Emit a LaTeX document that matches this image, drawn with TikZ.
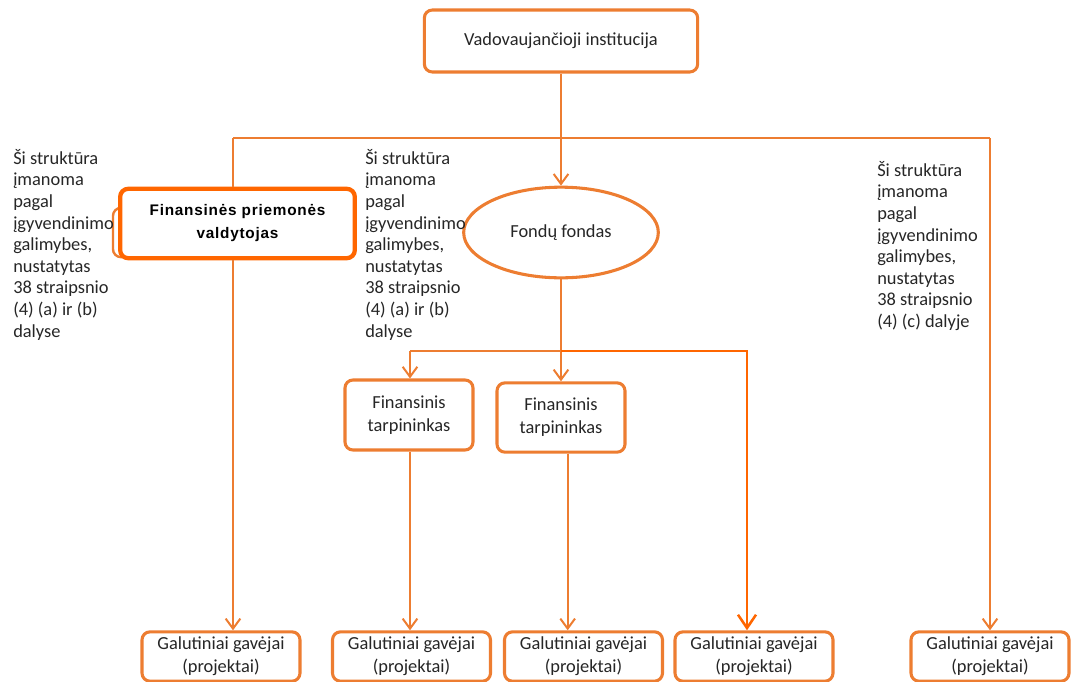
\documentclass[tikz,border=0pt]{standalone}
\usepackage{fontspec}
\setmainfont{Carlito}
\newfontfamily\fpvfont[LetterSpace=5]{Liberation Sans}
\usetikzlibrary{arrows.meta,shapes.geometric}
\definecolor{lineorange}{RGB}{237,125,49}
\definecolor{deeporange}{RGB}{255,102,0}
\begin{document}
\begin{tikzpicture}[x=0.75pt,y=-0.75pt,
        box/.style={rectangle, rounded corners=6pt, draw=lineorange, line width=2.3pt, fill=white, align=center, inner sep=0pt, text=black!85, font=\fontsize{13.8}{17.25}\selectfont},
        note/.style={align=left, inner sep=0pt, anchor=north west, text=black!85, font=\fontsize{13.8}{16.2}\selectfont},
        line/.style={draw=lineorange, line width=1.5pt},
        arrow/.style={line, -{Straight Barb[length=7.5pt,width=11pt]}},
        boldarrow/.style={draw=deeporange, line width=1.9pt, -{Straight Barb[length=10pt,width=13.5pt]}}
    ]
        \useasboundingbox (0,0) rectangle (1072,682);

        \node[box, minimum width=205pt, minimum height=46.5pt] (inst) at (561,41) {Vadovaujančioji institucija};
        \node[box, line width=1.8pt, minimum width=150pt, minimum height=37pt] (fpvback) at (213,232.5) {};
        \node[box, draw=deeporange, line width=3.2pt, minimum width=176pt, minimum height=52pt, text=black, font=\fpvfont\bfseries\fontsize{11.5}{17.25}\selectfont] (fpv) at (237.5,223.5) {Finansinės priemonės\\valdytojas};
        \node[ellipse, draw=lineorange, line width=2.3pt, fill=white, minimum width=146pt, minimum height=68pt, inner sep=0pt, text=black!85, font=\fontsize{13.8}{17.25}\selectfont] (fond) at (561,232.5) {Fondų fondas};
        \node[box, minimum width=96pt, minimum height=52.5pt] (ft1) at (409,415) {Finansinis\\tarpininkas};
        \node[box, minimum width=96pt, minimum height=52pt] (ft2) at (561,417.5) {Finansinis\\tarpininkas};

        \node[box, minimum width=118.5pt, minimum height=37pt] (g1) at (221,656.5) {Galutiniai gavėjai\\(projektai)};
        \node[box, minimum width=118.5pt, minimum height=37pt] (g2) at (411.5,656.5) {Galutiniai gavėjai\\(projektai)};
        \node[box, minimum width=118.5pt, minimum height=37pt] (g3) at (583.5,656.5) {Galutiniai gavėjai\\(projektai)};
        \node[box, minimum width=118.5pt, minimum height=37pt] (g4) at (754,656.5) {Galutiniai gavėjai\\(projektai)};
        \node[box, minimum width=118.5pt, minimum height=37pt] (g5) at (990,656.5) {Galutiniai gavėjai\\(projektai)};

        \node[note] (noteL) at (13,149) {Ši struktūra\\įmanoma\\pagal\\įgyvendinimo\\galimybes,\\nustatytas\\38 straipsnio\\(4) (a) ir (b)\\dalyse};
        \node[note] (noteM) at (365,149) {Ši struktūra\\įmanoma\\pagal\\įgyvendinimo\\galimybes,\\nustatytas\\38 straipsnio\\(4) (a) ir (b)\\dalyse};
        \node[note] (noteR) at (877,161) {Ši struktūra\\įmanoma\\pagal\\įgyvendinimo\\galimybes,\\nustatytas\\38 straipsnio\\(4) (c) dalyje};

        \coordinate (topL) at (233,138);
        \coordinate (topR) at (990,138);
        \coordinate (midL) at (410,351);
        \coordinate (midC) at (561,351);
        \coordinate (midR) at (747,351);

        \draw[arrow] (inst.south) -- (inst.south |- fond.north);
        \draw[line] (topL) -- (topR);
        \draw[line] (topL) -- (topL |- fpv.north);
        \draw[arrow] (topL |- fpv.south) -- (topL |- g1.north);
        \draw[arrow] (topR) -- (topR |- g5.north);

        \draw[line] (fond.south) -- (midC);
        \draw[line] (midC) -- (midL);
        \draw[arrow] (midL) -- (midL |- ft1.north);
        \draw[arrow] (midC) -- (ft2.north);
        \draw[boldarrow] (midC) -- (midR) -- (midR |- g4.north);
        \draw[arrow] (midL |- ft1.south) -- (midL |- g2.north);
        \draw[arrow] ([xshift=5pt]ft2.south) -- ([xshift=5pt]ft2.south |- g3.north);
    \end{tikzpicture}
\end{document}
